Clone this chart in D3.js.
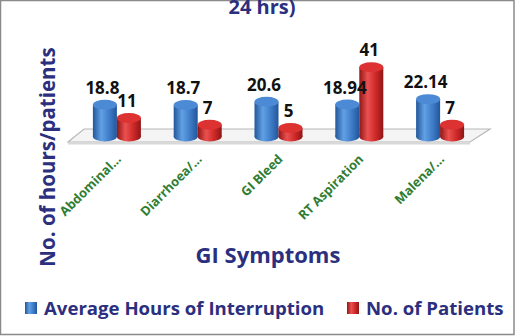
<!DOCTYPE html>
<html>
<head>
<meta charset="utf-8">
<script src="https://cdn.jsdelivr.net/npm/d3@7"></script>
<style>
  body { margin: 0; background: #fff; }
  svg { display: block; }
  text { font-family: "Open Sans", Lato, sans-serif; font-weight: bold; }
</style>
</head>
<body>
<div id="chart"></div>
<script>
const categories = ['Abdominal...', 'Diarrhoea/...', 'GI Bleed', 'RT Aspiration', 'Malena/...'];
const avgHours = [18.8, 18.7, 20.6, 18.94, 22.14];
const patients = [11, 7, 5, 41, 7];
const avgLabels = ['18.8', '18.7', '20.6', '18.94', '22.14'];
const seriesNames = ['Average Hours of Interruption', 'No. of Patients'];

const W = 515, H = 336;
const navy = '#2b2f7e';
const green = '#2e7d32';

const svg = d3.select('#chart').append('svg')
  .attr('width', W).attr('height', H);

// gradients for cylinders
const defs = svg.append('defs');
function cylGrad(id, dark, mid, light) {
  const g = defs.append('linearGradient').attr('id', id)
    .attr('x1', '0%').attr('x2', '100%').attr('y1', '0%').attr('y2', '0%');
  g.append('stop').attr('offset', '0%').attr('stop-color', dark);
  g.append('stop').attr('offset', '35%').attr('stop-color', light);
  g.append('stop').attr('offset', '70%').attr('stop-color', mid);
  g.append('stop').attr('offset', '100%').attr('stop-color', dark);
}
cylGrad('gBlue', '#22569a', '#3d7ac6', '#62a0e4');
cylGrad('gRed', '#901616', '#cc2727', '#ec5050');

// frame
svg.append('rect')
  .attr('x', 0.5).attr('y', 0.5).attr('width', W - 1.5).attr('height', H - 2)
  .attr('fill', '#fff').attr('stroke', '#8a8a8a').attr('stroke-width', 1.5);

// scales
const x = d3.scaleBand().domain(categories).range([76.5, 480.5]).padding(0);
const y = d3.scaleLinear().domain([0, 41]).range([136.5, 67.3]);
const barW = 24, ry = 5;

// floor
const floor = [[84, 129], [490, 129], [470, 142], [68, 142]];
svg.append('polygon')
  .attr('points', floor.map(p => p.join(',')).join(' '))
  .attr('fill', '#f4f4f4').attr('stroke', '#b8b8b8').attr('stroke-width', 1.2);
svg.append('line')
  .attr('x1', 68).attr('x2', 470).attr('y1', 143.5).attr('y2', 143.5)
  .attr('stroke', '#d8d8d8').attr('stroke-width', 2);

function cylinder(cx, v, grad, top) {
  const g = svg.append('g');
  const yt = y(v), yb = y(0);
  g.append('ellipse')
    .attr('cx', cx).attr('cy', yb).attr('rx', barW / 2).attr('ry', ry)
    .attr('fill', `url(#${grad})`);
  g.append('rect')
    .attr('x', cx - barW / 2).attr('y', yt).attr('width', barW).attr('height', yb - yt)
    .attr('fill', `url(#${grad})`);
  g.append('ellipse')
    .attr('cx', cx).attr('cy', yt).attr('rx', barW / 2).attr('ry', ry)
    .attr('fill', top);
}

categories.forEach((c, i) => {
  const x0 = x(c) + x.bandwidth() / 2;
  cylinder(x0 - 12, avgHours[i], 'gBlue', '#4c8ad6');
  cylinder(x0 + 12, patients[i], 'gRed', '#dc3232');
});

// data labels
svg.selectAll('.lblA')
  .data(categories)
  .join('text')
  .attr('x', d => x(d) + x.bandwidth() / 2 - 14.5)
  .attr('y', (d, i) => y(avgHours[i]) - ry - 6)
  .attr('text-anchor', 'middle')
  .style('font-size', '17px')
  .attr('fill', '#111')
  .text((d, i) => avgLabels[i]);

svg.selectAll('.lblP')
  .data(categories)
  .join('text')
  .attr('x', d => x(d) + x.bandwidth() / 2 + 10)
  .attr('y', (d, i) => y(patients[i]) - ry - 6)
  .attr('text-anchor', 'middle')
  .style('font-size', '17px')
  .attr('fill', '#111')
  .text((d, i) => patients[i]);

// category labels
svg.selectAll('.cat')
  .data(categories)
  .join('text')
  .attr('transform', d => `translate(${x(d) + x.bandwidth() / 2 + 5},160) rotate(-45)`)
  .attr('text-anchor', 'end')
  .style('font-size', '12.8px')
  .attr('fill', green)
  .text(d => d);

// title fragment
svg.append('text')
  .attr('x', 262).attr('y', 14)
  .attr('text-anchor', 'middle')
  .style('font-size', '20px')
  .attr('fill', navy)
  .text('24 hrs)');

// y axis title
svg.append('text')
  .attr('transform', 'translate(55,157) rotate(-90)')
  .attr('text-anchor', 'middle')
  .style('font-size', '20.5px')
  .attr('fill', navy)
  .text('No. of hours/patients');

// x axis title
svg.append('text')
  .attr('x', 268).attr('y', 263)
  .attr('text-anchor', 'middle')
  .style('font-size', '22px')
  .attr('fill', navy)
  .text('GI Symptoms');

// legend
const legend = svg.append('g').attr('transform', 'translate(25,302)');
const legItems = [
  { name: seriesNames[0], grad: 'gBlue', x: 0 },
  { name: seriesNames[1], grad: 'gRed', x: 322 }
];
legItems.forEach(it => {
  legend.append('rect')
    .attr('x', it.x).attr('y', 0).attr('width', 12).attr('height', 12)
    .attr('fill', `url(#${it.grad})`);
  legend.append('text')
    .attr('x', it.x + 19).attr('y', 13)
    .style('font-size', '18.6px')
    .attr('fill', navy)
    .text(it.name);
});
</script>
</body>
</html>
